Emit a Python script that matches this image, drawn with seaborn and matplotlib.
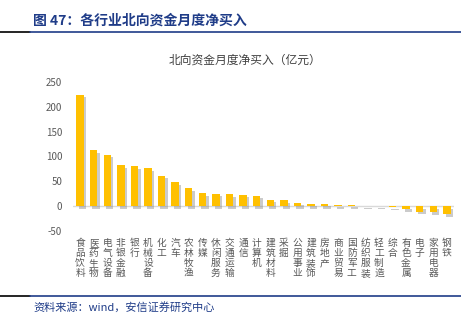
import matplotlib
matplotlib.use("Agg")
import matplotlib.pyplot as plt
import matplotlib.patheffects as pe
import seaborn as sns
import pandas as pd

categories = ["食品饮料", "医药生物", "电气设备", "非银金融", "银行", "机械设备", "化工", "汽车",
              "农林牧渔", "传媒", "休闲服务", "交通运输", "通信", "计算机", "建筑材料", "采掘",
              "公用事业", "建筑装饰", "房地产", "商业贸易", "国防军工", "纺织服装", "轻工制造",
              "综合", "有色金属", "电子", "家用电器", "钢铁"]
values = [224, 113, 104, 82, 80, 76, 61, 48, 36, 26, 25, 24, 23, 21, 13, 12, 7, 5, 5,
          3, 2.5, 0.6, 0.4, -2, -6, -11, -12, -16]
yticks = [-50, 0, 50, 100, 150, 200, 250]

sns.set_theme(style="white")
plt.rcParams['font.family'] = ['Noto Sans CJK SC', 'DejaVu Sans']

df = pd.DataFrame({"cat": categories, "val": values})

fig = plt.figure(figsize=(4.61, 3.24), dpi=100)
ax = fig.add_axes([0.159, 0.287, 0.825, 0.46])
sns.barplot(data=df, x="cat", y="val", color="#FFC000", saturation=1, width=0.55,
            linewidth=0, edgecolor="none", ax=ax)
for p in ax.patches:
    p.set_path_effects([pe.SimplePatchShadow(offset=(1.8, -1.8), shadow_rgbFace="#7F7F7F", alpha=0.4),
                        pe.Normal()])
ax.axhline(0, color="#D9D9D9", lw=1, zorder=0)
ax.set_ylim(-50, 250)
ax.set_xlim(-0.5, len(categories) - 0.5)
ax.set_yticks(yticks)
ax.set_yticklabels([str(t) for t in yticks], fontsize=7, color="#595959")
ax.set_xticks(range(len(categories)))
ax.set_xticklabels(["\n".join(c) for c in categories], fontsize=7, color="#595959",
                   linespacing=1.0, va="top")
ax.tick_params(axis="x", length=0, pad=5)
ax.tick_params(axis="y", length=0, pad=8)
ax.set_xlabel("")
ax.set_ylabel("")
for s in ax.spines.values():
    s.set_visible(False)

fig.text(0.532, 0.815, "北向资金月度净买入（亿元）", ha="center", va="center", fontsize=8.5, color="#404040")
fig.text(0.072, 0.938, "图 47：各行业北向资金月度净买入", ha="left", va="center", fontsize=10,
         fontweight="bold", color="#1F3C88")
fig.add_artist(plt.Line2D([0, 0.065], [0.900, 0.900], color="black", lw=1.2))
fig.add_artist(plt.Line2D([0.065, 1.0], [0.900, 0.900], color="#1F3C88", lw=1.2))
fig.add_artist(plt.Line2D([0, 0.065], [0.087, 0.087], color="black", lw=1.2))
fig.add_artist(plt.Line2D([0.065, 1.0], [0.087, 0.087], color="#1F3C88", lw=1.2))
fig.text(0.072, 0.052, "资料来源：wind，安信证券研究中心", ha="left", va="center", fontsize=8,
         style="italic", color="#1F3C88")

fig.savefig("out.png", dpi=100)
